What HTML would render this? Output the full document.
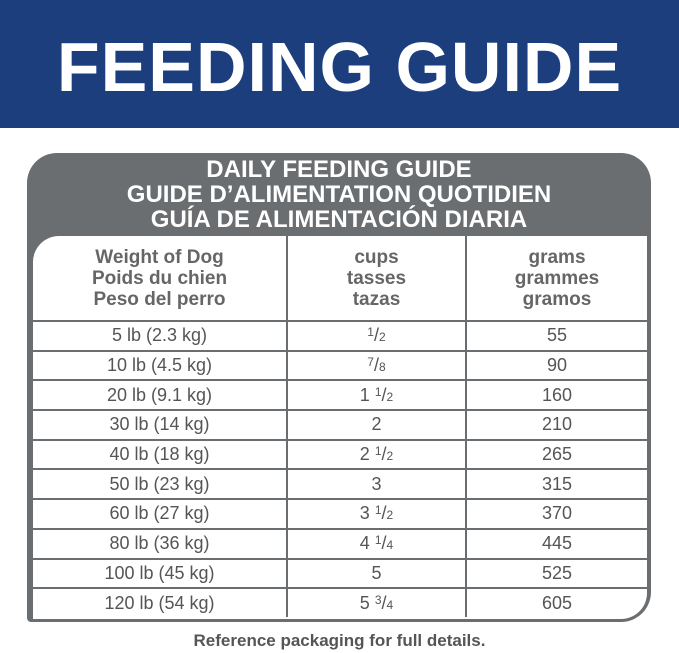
<!DOCTYPE html>
<html><head><style>
body{margin:0;width:679px;height:653px;background:#fff;position:relative;overflow:hidden;font-family:"Liberation Sans",sans-serif}
.ban{position:absolute;left:0;top:0;width:679px;height:128px;background:#1c3e7d}
.ban div{position:absolute;left:0;right:0;top:27px;text-align:center;color:#fff;font-weight:bold;font-size:70px;letter-spacing:1px;line-height:80px}
.box{position:absolute;left:27px;top:153px;width:624px;height:469px;background:#6b6e71;border-radius:30px 30px 30px 30px;border-bottom-left-radius:4px}
.hd{position:absolute;left:27px;top:157px;width:624px;text-align:center;color:#fff;font-weight:bold;font-size:24px;line-height:25px}
.in{position:absolute;left:33px;top:236px;width:614px;height:383px;background:#fff;border-top-left-radius:26px;border-bottom-right-radius:26px;overflow:hidden}
table{border-collapse:collapse;width:614px;color:#555;font-size:18px}
td{border:2px solid #6b6e71;text-align:center;padding:0;height:27.7px}
tr:first-child td{border-top:none;height:84px;font-weight:bold;font-size:19px;line-height:21px;color:#666}
td:first-child{border-left:none;width:253px}
td:last-child{border-right:none}
tr:last-child td{border-bottom:none}
td:nth-child(2){width:177px}
sup{font-size:12px;vertical-align:5px}
.f{position:absolute;left:0;right:0;top:631px;text-align:center;color:#555;font-weight:bold;font-size:17px}
</style></head><body>
<div class="ban"><div>FEEDING GUIDE</div></div>
<div class="box"></div>
<div class="hd">DAILY FEEDING GUIDE<br>GUIDE D’ALIMENTATION QUOTIDIEN<br>GUÍA DE ALIMENTACIÓN DIARIA</div>
<div class="in"><table>
<tr><td>Weight of Dog<br>Poids du chien<br>Peso del perro</td><td>cups<br>tasses<br>tazas</td><td>grams<br>grammes<br>gramos</td></tr>
<tr><td>5 lb (2.3 kg)</td><td><sup>1</sup>/<span style="font-size:12px">2</span></td><td>55</td></tr>
<tr><td>10 lb (4.5 kg)</td><td><sup>7</sup>/<span style="font-size:12px">8</span></td><td>90</td></tr>
<tr><td>20 lb (9.1 kg)</td><td>1 <sup>1</sup>/<span style="font-size:12px">2</span></td><td>160</td></tr>
<tr><td>30 lb (14 kg)</td><td>2</td><td>210</td></tr>
<tr><td>40 lb (18 kg)</td><td>2 <sup>1</sup>/<span style="font-size:12px">2</span></td><td>265</td></tr>
<tr><td>50 lb (23 kg)</td><td>3</td><td>315</td></tr>
<tr><td>60 lb (27 kg)</td><td>3 <sup>1</sup>/<span style="font-size:12px">2</span></td><td>370</td></tr>
<tr><td>80 lb (36 kg)</td><td>4 <sup>1</sup>/<span style="font-size:12px">4</span></td><td>445</td></tr>
<tr><td>100 lb (45 kg)</td><td>5</td><td>525</td></tr>
<tr><td>120 lb (54 kg)</td><td>5 <sup>3</sup>/<span style="font-size:12px">4</span></td><td>605</td></tr>
</table></div>
<div class="f">Reference packaging for full details.</div>
</body></html>
